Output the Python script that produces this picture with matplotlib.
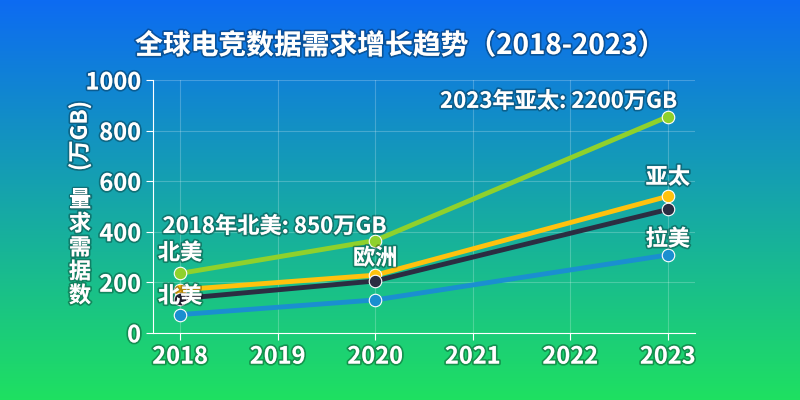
import matplotlib.pyplot as plt
import matplotlib.patheffects as pe
import numpy as np

plt.rcParams['font.family'] = ['Noto Sans CJK SC', 'DejaVu Sans']

years = [2018, 2020, 2023]
green_vals = [235, 365, 855]
yellow_vals = [170, 228, 540]
dark_vals = [135, 205, 488]
blue_vals = [72, 130, 308]
xticks = [2018, 2019, 2020, 2021, 2022, 2023]
yticks = [0, 200, 400, 600, 800, 1000]

fig = plt.figure(figsize=(8, 4), dpi=100)

# background gradient blue -> green
bg = fig.add_axes([0, 0, 1, 1])
grad = np.linspace(0, 1, 256).reshape(-1, 1)
top = np.array([0.05, 0.42, 0.95])
bot = np.array([0.12, 0.88, 0.38])
img = top + (bot - top) * grad[:, :, None]
bg.imshow(img, aspect='auto', extent=[0, 1, 0, 1])
bg.axis('off')

ax = fig.add_axes([0.191, 0.168, 0.678, 0.632])
ax.patch.set_alpha(0)
shadow = [pe.withStroke(linewidth=2.5, foreground=(0, 0, 0, 0.3))]

series = [
    (green_vals, '#8fd12c'),
    (yellow_vals, '#ffc20e'),
    (dark_vals, '#2b2d42'),
    (blue_vals, '#1a8fd0'),
]
for vals, c in series:
    ax.plot(years, vals, color=c, lw=3.5, marker='o', ms=9,
            markeredgecolor='white', markeredgewidth=0.8, zorder=3)

ax.set_xlim(2017.72, 2023.28)
ax.set_ylim(0, 1000)
ax.set_xticks(xticks)
ax.set_yticks(yticks)
ax.grid(color='white', alpha=0.22, lw=0.8)
for s in ['top', 'right']:
    ax.spines[s].set_visible(False)
for s in ['left', 'bottom']:
    ax.spines[s].set_color('white')
ax.tick_params(colors='white', labelsize=17, length=5)
for lab in ax.get_xticklabels() + ax.get_yticklabels():
    lab.set_fontweight('bold')
    lab.set_path_effects(shadow)

def txt(x, y, s, **kw):
    ax.text(x, y, s, color='white', fontsize=16, fontweight='bold',
            path_effects=shadow, zorder=5, **kw)

txt(2018, 270, '北美', ha='center', va='bottom')
txt(2018, 145, '北美', ha='center', va='center')
txt(2020, 250, '欧洲', ha='center', va='bottom')
txt(2023, 570, '亚太', ha='center', va='bottom')
txt(2023, 325, '拉美', ha='center', va='bottom')
txt(2017.82, 375, '2018年北美: 850万GB', ha='left', va='bottom')
txt(2023.1, 870, '2023年亚太: 2200万GB', ha='right', va='bottom')

fig.text(0.5, 0.885, '全球电竞数据需求增长趋势（2018-2023）', ha='center', va='center',
         color='white', fontsize=20, fontweight='bold', path_effects=shadow)
fig.text(0.1, 0.66, '(万GB)', rotation=90, ha='center', va='center',
         color='white', fontsize=16, fontweight='bold', path_effects=shadow)
fig.text(0.1, 0.38, '量\n求\n需\n据\n数', ha='center', va='center', linespacing=1.05,
         color='white', fontsize=16, fontweight='bold', path_effects=shadow)

fig.savefig('out.png', dpi=100)
